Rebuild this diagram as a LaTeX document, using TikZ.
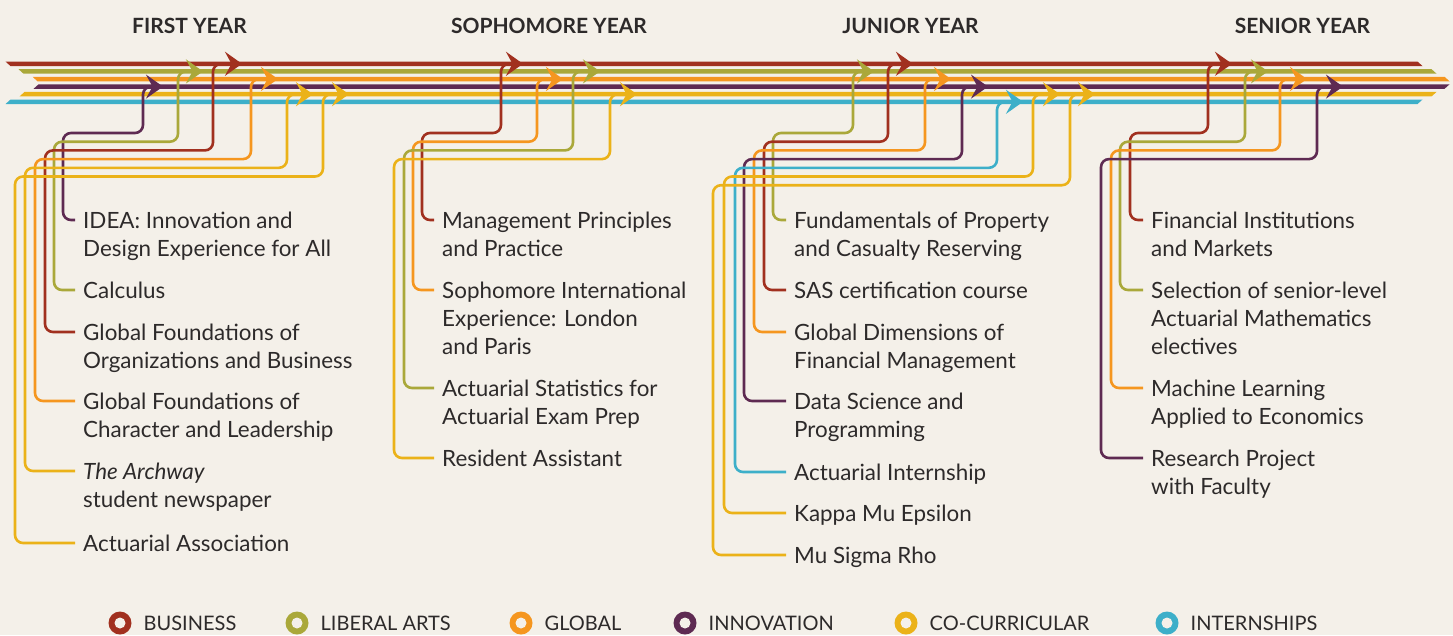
\documentclass[tikz,border=0pt]{standalone}
\usepackage{fontspec}
\setmainfont{Lato}
\usetikzlibrary{positioning,arrows.meta}
\definecolor{paper}{HTML}{F4F0E9}
\definecolor{ink}{HTML}{2D2A2A}
\definecolor{biz}{HTML}{A1301F}
\definecolor{lib}{HTML}{AAA83A}
\definecolor{glob}{HTML}{F5961F}
\definecolor{inn}{HTML}{5E2A52}
\definecolor{cocur}{HTML}{EBB219}
\definecolor{intern}{HTML}{3DAFC9}
\tikzset{
  branch/.style={line width=2.6pt, rounded corners=8pt, -{Stealth[length=17pt,width=24pt,inset=6.5pt]}},
  lbl/.style={anchor=base west, inner sep=0pt, align=left, text=ink, font=\fontsize{22.4}{28}\selectfont},
  year/.style={text=ink, font=\fontsize{21}{24}\selectfont\bfseries},
  ring/.style={circle, minimum size=23pt, inner sep=0pt, outer sep=0pt,
    path picture={\fill[paper] (path picture bounding box.center) circle (5.5pt);}},
  legtxt/.style={inner sep=0pt, text=ink, font=\fontsize{20}{22}\selectfont}
}
\begin{document}
\begin{tikzpicture}[x=1pt, y=-1pt]
    \fill[paper] (0,0) rectangle (1453,635);
    \useasboundingbox (0,0) rectangle (1453,635);

    % the six tracks
    \fill[biz]    (5.5,61.55) -- (1417.5,61.55) -- (1422.5,66.05) -- (10.5,66.05) -- cycle;
    \fill[lib]    (18.5,69.15) -- (1431.5,69.15) -- (1436.5,73.65) -- (23.5,73.65) -- cycle;
    \fill[glob]   (32.5,76.75) -- (1444.5,76.75) -- (1449.5,81.25) -- (37.5,81.25) -- cycle;
    \fill[inn]    (38.5,84.35) -- (1449.5,84.35) -- (1444.5,88.85) -- (33.5,88.85) -- cycle;
    \fill[cocur]  (24.5,91.95) -- (1436.5,91.95) -- (1431.5,96.45) -- (19.5,96.45) -- cycle;
    \fill[intern] (10.5,99.55) -- (1422.5,99.55) -- (1417.5,104.05) -- (5.5,104.05) -- cycle;

    % year headings
    \node[year] (first)  at (189.5,26) {FIRST YEAR};
    \node[year] (second) at (549,26)   {SOPHOMORE YEAR};
    \node[year] (third)  at (910.5,26) {JUNIOR YEAR};
    \node[year] (fourth) at (1302.5,26) {SENIOR YEAR};

    % first year (nodes sit on the baseline of their last line)
    \node[lbl] (idea)     at (83,256) {IDEA: Innovation and\\Design Experience for All};
    \node[lbl] (calc)     at (83,298) {Calculus};
    \node[lbl] (gfob)     at (83,368) {Global Foundations of\\Organizations and Business};
    \node[lbl] (gfcl)     at (83,437) {Global Foundations of\\Character and Leadership};
    \node[lbl] (archway)  at (83,507) {\textit{The Archway}\\student newspaper};
    \node[lbl] (actassoc) at (83,551) {Actuarial Association};

    \coordinate (idea-tip)     at (163,86.6);
    \coordinate (calc-tip)     at (203,71.4);
    \coordinate (gfob-tip)     at (242,63.8);
    \coordinate (gfcl-tip)     at (278,79.0);
    \coordinate (archway-tip)  at (313,94.2);
    \coordinate (actassoc-tip) at (349,94.2);

    \draw[branch, inn]   ([xshift=-8pt,yshift=36pt]idea.base west)    -| (63,133)   -| (143,86.6) -- (idea-tip);
    \draw[branch, lib]   ([xshift=-8pt,yshift=8pt]calc.base west)     -| (54,141.7) -| (178,71.4) -- (calc-tip);
    \draw[branch, biz]   ([xshift=-8pt,yshift=36pt]gfob.base west)    -| (45,150.4) -| (213,63.8) -- (gfob-tip);
    \draw[branch, glob]  ([xshift=-8pt,yshift=36pt]gfcl.base west)    -| (35,159.1) -| (251,79.0) -- (gfcl-tip);
    \draw[branch, cocur] ([xshift=-8pt,yshift=36pt]archway.base west) -| (25,167.8) -| (287,94.2) -- (archway-tip);
    \draw[branch, cocur] ([xshift=-8pt,yshift=8pt]actassoc.base west) -| (15,176.5) -| (323,94.2) -- (actassoc-tip);

    % sophomore year
    \node[lbl] (mgmt)    at (442,256) {Management Principles\\and Practice};
    \node[lbl] (soph)    at (442,354) {Sophomore International\\Experience: London\\and Paris};
    \node[lbl] (actstat) at (442,424) {Actuarial Statistics for\\Actuarial Exam Prep};
    \node[lbl] (ra)      at (442,466) {Resident Assistant};

    \coordinate (mgmt-tip)    at (523,63.8);
    \coordinate (soph-tip)    at (563,79.0);
    \coordinate (actstat-tip) at (600,71.4);
    \coordinate (ra-tip)      at (637,94.2);

    \draw[branch, biz]   ([xshift=-8pt,yshift=36pt]mgmt.base west)    -| (422,133)   -| (501,63.8) -- (mgmt-tip);
    \draw[branch, glob]  ([xshift=-8pt,yshift=64pt]soph.base west)    -| (413,141.7) -| (537,79.0) -- (soph-tip);
    \draw[branch, lib]   ([xshift=-8pt,yshift=36pt]actstat.base west) -| (404,150.4) -| (573,71.4) -- (actstat-tip);
    \draw[branch, cocur] ([xshift=-8pt,yshift=8pt]ra.base west)       -| (394,159.1) -| (610,94.2) -- (ra-tip);

    % junior year
    \node[lbl] (fund)    at (794,256) {Fundamentals of Property\\and Casualty Reserving};
    \node[lbl] (sas)     at (794,298) {SAS certification course};
    \node[lbl] (gdfm)    at (794,368) {Global Dimensions of\\Financial Management};
    \node[lbl] (datasci) at (794,437) {Data Science and\\Programming};
    \node[lbl] (aintern) at (794,480) {Actuarial Internship};
    \node[lbl] (kme)     at (794,521) {Kappa Mu Epsilon};
    \node[lbl] (msr)     at (794,563) {Mu Sigma Rho};

    \coordinate (fund-tip)    at (874,71.4);
    \coordinate (sas-tip)     at (913,63.8);
    \coordinate (gdfm-tip)    at (951,79.0);
    \coordinate (datasci-tip) at (988,86.6);
    \coordinate (aintern-tip) at (1023,101.8);
    \coordinate (kme-tip)     at (1060,94.2);
    \coordinate (msr-tip)     at (1095,94.2);

    \draw[branch, lib]    ([xshift=-8pt,yshift=36pt]fund.base west)    -| (773,133)   -| (853,71.4)  -- (fund-tip);
    \draw[branch, biz]    ([xshift=-8pt,yshift=8pt]sas.base west)      -| (764,141.7) -| (888,63.8)  -- (sas-tip);
    \draw[branch, glob]   ([xshift=-8pt,yshift=36pt]gdfm.base west)    -| (754,150.4) -| (925,79.0)  -- (gdfm-tip);
    \draw[branch, inn]    ([xshift=-8pt,yshift=36pt]datasci.base west) -| (744,159.1) -| (962,86.6)  -- (datasci-tip);
    \draw[branch, intern] ([xshift=-8pt,yshift=8pt]aintern.base west)  -| (735,167.8) -| (997,101.8) -- (aintern-tip);
    \draw[branch, cocur]  ([xshift=-8pt,yshift=8pt]kme.base west)      -| (724,176.5) -| (1033,94.2) -- (kme-tip);
    \draw[branch, cocur]  ([xshift=-8pt,yshift=8pt]msr.base west)      -| (713,185.2) -| (1070,94.2) -- (msr-tip);

    % senior year
    \node[lbl] (finmkt)   at (1151,256) {Financial Institutions\\and Markets};
    \node[lbl] (electv)   at (1151,354) {Selection of senior-level\\Actuarial Mathematics\\electives};
    \node[lbl] (mlearn)   at (1151,424) {Machine Learning\\Applied to Economics};
    \node[lbl] (research) at (1151,494) {Research Project\\with Faculty};

    \coordinate (finmkt-tip)   at (1232,63.8);
    \coordinate (electv-tip)   at (1268,71.4);
    \coordinate (mlearn-tip)   at (1307,79.0);
    \coordinate (research-tip) at (1343,86.6);

    \draw[branch, biz]  ([xshift=-8pt,yshift=36pt]finmkt.base west)   -| (1130,133)   -| (1208,63.8) -- (finmkt-tip);
    \draw[branch, lib]  ([xshift=-8pt,yshift=64pt]electv.base west)   -| (1120,141.7) -| (1245,71.4) -- (electv-tip);
    \draw[branch, glob] ([xshift=-8pt,yshift=36pt]mlearn.base west)   -| (1111,150.4) -| (1280,79.0) -- (mlearn-tip);
    \draw[branch, inn]  ([xshift=-8pt,yshift=36pt]research.base west) -| (1101,159.1) -| (1317,86.6) -- (research-tip);

    % legend
    \node[ring, fill=biz]    (kbiz)    at (120,623)  {};
    \node[ring, fill=lib]    (klib)    at (297,623)  {};
    \node[ring, fill=glob]   (kglob)   at (521,623)  {};
    \node[ring, fill=inn]    (kinn)    at (685,623)  {};
    \node[ring, fill=cocur]  (kcocur)  at (906,623)  {};
    \node[ring, fill=intern] (kintern) at (1167,623) {};
    \node[legtxt, right=12pt of kbiz]    (tbiz)    {BUSINESS};
    \node[legtxt, right=12pt of klib]    (tlib)    {LIBERAL ARTS};
    \node[legtxt, right=12pt of kglob]   (tglob)   {GLOBAL};
    \node[legtxt, right=12pt of kinn]    (tinn)    {INNOVATION};
    \node[legtxt, right=12pt of kcocur]  (tcocur)  {CO-CURRICULAR};
    \node[legtxt, right=12pt of kintern] (tintern) {INTERNSHIPS};
\end{tikzpicture}
\end{document}
